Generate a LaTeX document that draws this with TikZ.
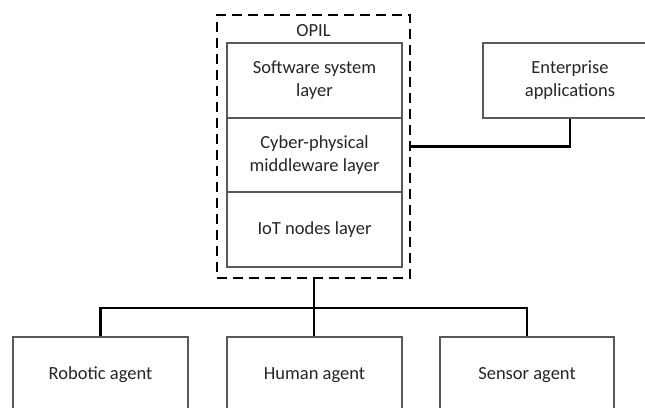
\documentclass[tikz,border=0pt]{standalone}
\usepackage{fontspec}
\setmainfont{Carlito}
\begin{document}
\begin{tikzpicture}[x=1pt,y=-1pt,
  box/.style={draw=black!65, line width=1.1pt, fill=white, align=center,
    inner sep=0pt, font=\fontsize{18.5}{23}\selectfont, text=black!85},
  wire/.style={draw=black, line width=2.5pt},
  frame/.style={draw=black, line width=2.6pt, dash pattern=on 10pt off 6pt},
  lbl/.style={font=\fontsize{18.5}{23}\selectfont, text=black!85, inner sep=0pt}]
\clip (0,0) rectangle (645,407);
\fill[white] (0,0) rectangle (645,407);

% OPIL platform: dashed frame around the three-layer stack
\node[frame, minimum width=193pt, minimum height=263pt, inner sep=0pt] (opil) at (313.5,146.5) {};
\node[lbl] (opiltitle) at (313.5,31) {OPIL};
\node[box, minimum width=175pt, minimum height=75pt] (sw) at (314.5,80.5) {Software system\\layer};
\node[box, minimum width=175pt, minimum height=74pt] (cp) at (314.5,155) {Cyber-physical\\middleware layer};
\node[box, minimum width=175pt, minimum height=75pt] (iot) at (314.5,229.5) {IoT nodes layer};

% Enterprise side
\node[box, minimum width=174pt, minimum height=75pt] (ent) at (570,80.5) {Enterprise\\applications};

% Agents
\node[box, minimum width=175pt, minimum height=76pt] (robot) at (100.5,375) {Robotic agent};
\node[box, minimum width=175pt, minimum height=76pt] (human) at (314.5,375) {Human agent};
\node[box, minimum width=174pt, minimum height=76pt] (sensor) at (527,375) {Sensor agent};

% Connectors
\draw[wire] (opil.east) -| (ent.south);
\coordinate (bus) at (314,308);
\draw[wire] (opil.south -| bus) -- (bus |- human.north);
\draw[wire] (robot.north) |- (bus) -| (sensor.north);
\end{tikzpicture}
\end{document}
